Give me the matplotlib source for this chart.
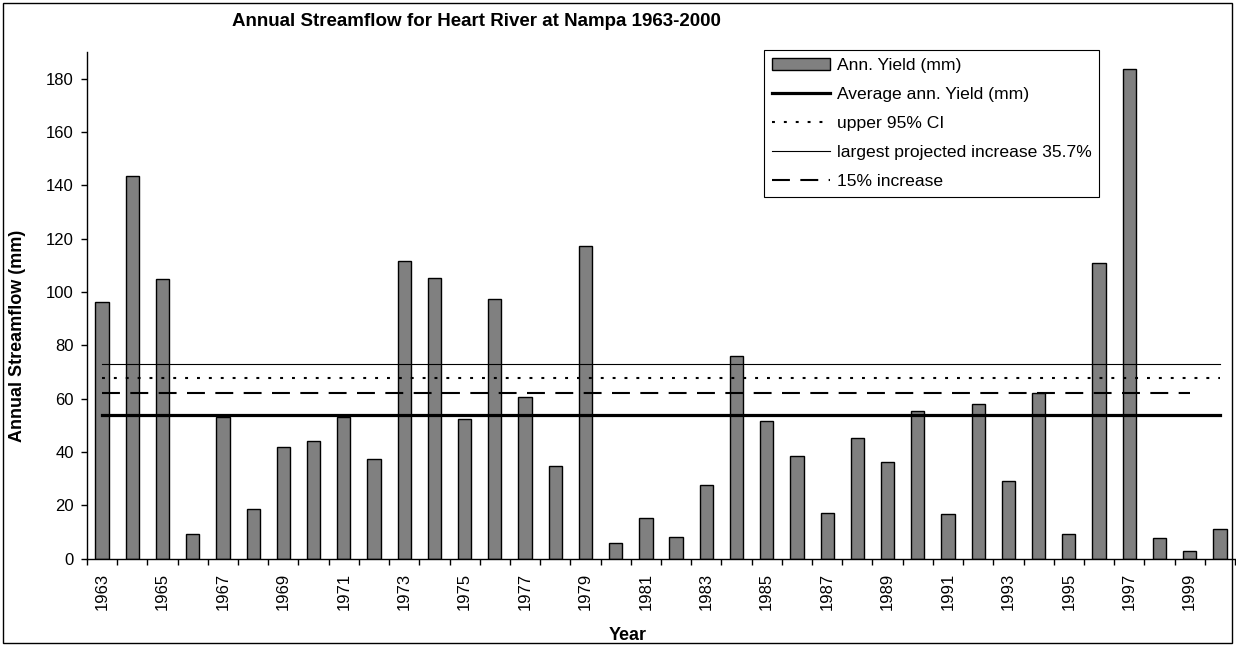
import matplotlib
matplotlib.use("Agg")
import matplotlib.pyplot as plt
from matplotlib.patches import Rectangle

# annual yield (mm)
years = list(range(1963, 2001))
ann_yield = [
    96.1, 143.4, 104.8, 9.1, 53.3, 18.5, 41.9, 44.0, 53.3, 37.4,
    111.8, 105.3, 52.2, 97.3, 60.7, 34.8, 117.3, 5.9, 15.1, 8.1,
    27.7, 76.0, 51.6, 38.6, 17.3, 45.1, 36.3, 55.5, 16.8, 57.9,
    29.2, 62.1, 9.3, 110.9, 183.6, 7.7, 2.9, 11.0,
]
avg_yield = 53.7
upper_ci = 67.9
largest_increase = 73.1
increase_15 = 62.0

plt.rcParams["font.family"] = ["Liberation Sans", "DejaVu Sans"]

fig = plt.figure(figsize=(12.36, 6.45), dpi=100)
ax = fig.add_axes([87 / 1236, 1 - 558.7 / 645, (1235 - 87) / 1236, (558.7 - 52) / 645])

x = list(range(len(years)))
bars = ax.bar(x, ann_yield, width=0.44, color="#808080", edgecolor="black",
              linewidth=1.0, label="Ann. Yield (mm)", zorder=2)

n = len(years)
avg_line, = ax.plot(x, [avg_yield] * n, color="black", linewidth=2.3,
                    label="Average ann. Yield (mm)", zorder=3)
ci_line, = ax.plot(x, [upper_ci] * n, color="black", linewidth=1.5, dashes=(1.4, 4.3),
                   label="upper 95% CI", zorder=3)
big_line, = ax.plot(x, [largest_increase] * n, color="black", linewidth=0.8,
                    label="largest projected increase 35.7%", zorder=3)
inc_line, = ax.plot(x[:-1], [increase_15] * (n - 1), color="black", linewidth=1.5,
                    dashes=(8.6, 5.0), label="15% increase", zorder=3)

ax.set_xlim(-0.5, n - 0.5)
ax.set_ylim(0, 190)
ax.set_yticks(range(0, 181, 20))
ax.set_xticks(x[::2])
ax.set_xticklabels([str(y) for y in years[::2]], rotation=90)
ax.set_xticks([i - 0.5 for i in range(n + 1)], minor=True)
ax.tick_params(axis="x", which="major", length=0, pad=10, labelsize=12)
ax.tick_params(axis="x", which="minor", length=4, width=1, direction="out")
ax.tick_params(axis="y", length=4.5, width=1, direction="out", labelsize=12, pad=5)

ax.spines["top"].set_visible(False)
ax.spines["right"].set_visible(False)
ax.spines["left"].set_linewidth(1)
ax.spines["bottom"].set_linewidth(1)

ax.set_xlabel("Year", fontsize=13, fontweight="bold")
ax.set_ylabel("Annual Streamflow (mm)", fontsize=13, fontweight="bold")
ax.xaxis.set_label_coords((628 - 87) / (1235 - 87), -(627 - 558.7) / (558.7 - 52))
ax.yaxis.set_label_coords(-(87 - 26) / (1235 - 87), 0.44)
fig.text(476 / 1236, 1 - 22 / 645, "Annual Streamflow for Heart River at Nampa 1963-2000",
         ha="center", va="center", fontsize=13.5, fontweight="bold")

leg = ax.legend(handles=[bars, avg_line, ci_line, big_line, inc_line],
                loc="upper left", bbox_to_anchor=(764 / 1236, 1 - 50 / 645),
                bbox_transform=fig.transFigure, borderaxespad=0, fontsize=12.6,
                handlelength=3.3, handletextpad=0.4, labelspacing=0.79, borderpad=0.45,
                fancybox=False, framealpha=1, edgecolor="black")
leg.get_frame().set_linewidth(0.8)

fig.patches.append(Rectangle((3 / 1236, 2 / 645), 1229 / 1236, 640 / 645,
                             transform=fig.transFigure, fill=False,
                             edgecolor="black", linewidth=1))

fig.savefig("out.png", dpi=100)
